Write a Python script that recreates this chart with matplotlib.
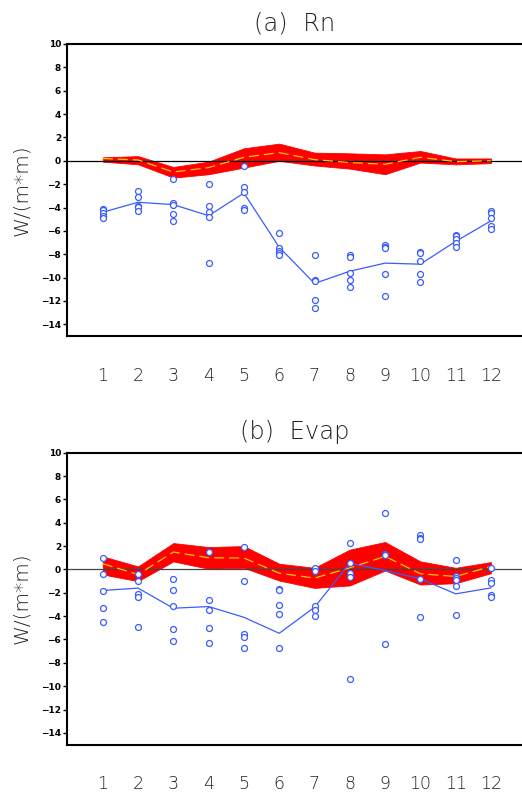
import matplotlib
matplotlib.use("Agg")
import matplotlib.pyplot as plt

months = list(range(1, 13))

# ----------------------------
# (a) Rn
# ----------------------------
rn_upper = [0.3, 0.4, -0.53, -0.07, 1.07, 1.47, 0.7, 0.64, 0.55, 0.84, 0.2, 0.2]
rn_lower = [-0.07, -0.3, -1.44, -1.15, -0.58, 0.0, -0.4, -0.67, -1.15, -0.15, -0.3, -0.2]
rn_median = [0.2, 0.07, -0.96, -0.58, 0.3, 0.7, 0.1, -0.15, -0.3, 0.3, -0.07, 0.0]
rn_obs_line = [-4.4, -3.55, -3.75, -4.7, -2.76, -7.4, -10.5, -9.45, -8.76, -8.85, -6.9, -5.14]
rn_points = [
    [-4.1, -4.25, -4.45, -4.7, -4.9],
    [-2.6, -3.1, -3.85, -3.95, -4.3],
    [-1.6, -3.6, -3.8, -4.55, -5.15],
    [-2.0, -3.9, -4.4, -4.77, -8.76],
    [-0.45, -2.24, -2.67, -4.06, -4.23],
    [-6.2, -7.48, -7.7, -7.9, -8.08],
    [-8.08, -10.2, -10.3, -11.9, -12.56],
    [-8.08, -8.25, -9.6, -10.2, -10.8],
    [-7.2, -7.35, -7.5, -9.7, -11.6],
    [-7.8, -7.93, -8.6, -9.66, -10.4],
    [-6.34, -6.48, -6.71, -7.05, -7.42],
    [-4.32, -4.49, -4.86, -5.57, -5.85],
]

# ----------------------------
# (b) Evap
# ----------------------------
ev_upper = [1.12, 0.26, 2.26, 1.92, 2.0, 0.49, 0.14, 1.7, 2.35, 0.69, 0.14, 0.63]
ev_lower = [-0.43, -1.0, 0.69, 0.06, 0.14, -0.95, -1.58, -1.37, -0.09, -1.29, -1.18, -0.32]
ev_median = [0.49, -0.43, 1.49, 1.0, 0.98, -0.32, -0.74, 0.14, 1.12, -0.37, -0.6, 0.26]
ev_obs_line = [-1.8, -1.6, -3.32, -3.18, -4.1, -5.47, -3.24, 0.54, -0.09, -0.8, -2.09, -1.58]
ev_points = [
    [1.0, -0.43, -1.86, -3.27, -4.53],
    [-0.37, -1.03, -2.09, -2.38, -4.9],
    [-0.8, -1.75, -3.15, -5.1, -6.1],
    [1.49, -2.58, -3.47, -5.05, -6.33],
    [1.95, -0.95, -5.53, -5.82, -6.77],
    [-1.66, -1.75, -3.07, -3.81, -6.77],
    [0.11, -0.17, -3.1, -3.47, -3.96],
    [2.26, 0.54, -0.32, -0.66, -9.35],
    [4.87, 1.35, 1.26, -6.39],
    [2.92, 2.72, 2.6, -0.8, -4.1],
    [0.83, -0.6, -0.75, -0.89, -1.4, -3.87],
    [0.14, -0.89, -1.18, -2.18, -2.38],
]

yticks = list(range(-14, 11, 2))

fig = plt.figure(figsize=(5.22, 7.94), dpi=100)

panels = [
    ("(a)  Rn", [0.1293, 0.5768, 0.8707, 0.3678], rn_upper, rn_lower, rn_median, rn_obs_line, rn_points, "black"),
    ("(b)  Evap", [0.1293, 0.0623, 0.8707, 0.3675], ev_upper, ev_lower, ev_median, ev_obs_line, ev_points, "#444444"),
]

for title, rect, up, lo, med, obs, pts, zcol in panels:
    ax = fig.add_axes(rect)

    # model spread band and median
    ax.fill_between(months, lo, up, color="#ff0000", lw=0.6, edgecolor="#ff0000", zorder=1)
    ax.axhline(0, color=zcol, lw=0.9, zorder=2)
    ax.plot(months, med, color="#ffc800", lw=0.9, dashes=(8, 4), zorder=3)

    # observations
    ax.plot(months, obs, color="#3a5cff", lw=0.9, zorder=4)
    for m, vals in zip(months, pts):
        ax.plot([m] * len(vals), vals, "o", ms=4.3, mfc="white", mec="#3a5cff",
                mew=0.9, ls="none", zorder=5)

    ax.set_xlim(0, 12.88)
    ax.set_ylim(-15, 10)
    ax.set_xticks(months)
    ax.set_xticklabels([str(m) for m in months], fontsize=12.5, fontweight="light", color="#222222")
    ax.set_yticks(yticks)
    ax.set_yticklabels([str(t).replace("-", "\u2212") for t in yticks], fontsize=6.5, fontweight="bold")
    ax.tick_params(axis="x", length=0, pad=22)
    ax.tick_params(axis="y", length=3, width=1, direction="out", pad=1.5)

    for s in ["top", "bottom", "left"]:
        ax.spines[s].set_linewidth(1.5)
    ax.spines["right"].set_visible(False)

    ax.set_title(title, fontsize=17.5, fontweight="light", color="#222222", pad=10)

    cy = rect[1] + rect[3] / 2
    fig.text(22 / 522, cy, "W/(m*m)", rotation=90, ha="center", va="center",
             fontsize=14.5, fontweight="light", color="#222222")

fig.savefig("out.png", dpi=100)
